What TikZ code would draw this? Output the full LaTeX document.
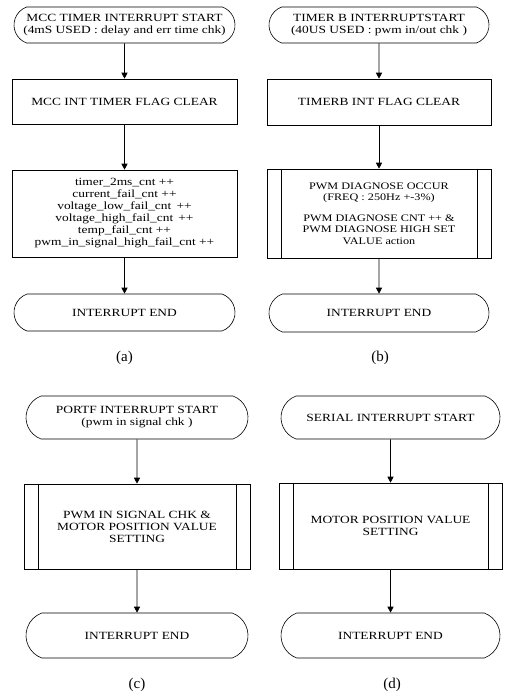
\documentclass[tikz,border=0pt]{standalone}
\usepackage{fontspec}
\setmainfont{Liberation Serif}[FakeStretch=1.22]
\newfontfamily\capfont{Liberation Serif}
\usetikzlibrary{arrows.meta, positioning, shapes.misc}

\begin{document}
\begin{tikzpicture}[x=1pt, y=-1pt, font=\fontsize{11}{12}\selectfont,
        termbox/.style={rounded rectangle, rounded rectangle arc length=140,
                        draw, line width=0.6pt, align=center, inner sep=2pt},
        procbox/.style={rectangle, draw, line width=0.6pt, align=center, inner sep=2pt},
        flow/.style={-{Triangle[length=6pt, width=6pt]}, line width=0.7pt},
        caption/.style={font=\capfont\fontsize{15}{17}\selectfont}
    ]
        \useasboundingbox (0,0) rectangle (504,696);
        % (a) MCC timer
        \node[termbox, minimum width=225pt, minimum height=36pt] (aStart) at (124.5,25)
            {MCC TIMER INTERRUPT START\\(4mS USED : delay and err time chk)};
        \node[procbox, minimum width=225pt, minimum height=45pt] (aClear) at (124.5,101.5)
            {MCC INT TIMER FLAG CLEAR};
        \node[procbox, minimum width=225pt, minimum height=87pt] (aCount) at (124.5,213.5)
            {timer\_2ms\_cnt ++\\current\_fail\_cnt ++\\voltage\_low\_fail\_cnt \,++\\
             voltage\_high\_fail\_cnt \,++\\temp\_fail\_cnt ++\\pwm\_in\_signal\_high\_fail\_cnt ++};
        \node[termbox, minimum width=225pt, minimum height=37pt] (aEnd) at (124.5,312.5)
            {INTERRUPT END};
        % (b) timer B
        \node[termbox, minimum width=224pt, minimum height=36pt] (bStart) at (379,25)
            {TIMER B INTERRUPTSTART\\(40US USED : pwm in/out chk )};
        \node[procbox, minimum width=224pt, minimum height=46pt] (bClear) at (379,102)
            {TIMERB INT FLAG CLEAR};
        \node[procbox, minimum width=224pt, minimum height=89pt,
              font=\fontsize{10}{11.5}\selectfont] (bDiag) at (379,213.5)
            {PWM DIAGNOSE OCCUR\\(FREQ : 250Hz +-3\%)\\[9pt]PWM DIAGNOSE CNT ++ \&\\
             PWM DIAGNOSE HIGH SET\\VALUE action};
        \node[termbox, minimum width=224pt, minimum height=38pt] (bEnd) at (379,313)
            {INTERRUPT END};
        % (c) port F
        \node[termbox, minimum width=226pt, minimum height=43pt] (cStart) at (137,417.5)
            {PORTF INTERRUPT START\\(pwm in signal chk )};
        \node[procbox, minimum width=226pt, minimum height=85pt] (cSig) at (137,526.5)
            {PWM IN SIGNAL CHK \&\\MOTOR POSITION VALUE\\SETTING};
        \node[termbox, minimum width=226pt, minimum height=45pt] (cEnd) at (137,635.5)
            {INTERRUPT END};
        % (d) serial
        \node[termbox, minimum width=223pt, minimum height=43pt] (dStart) at (390.5,417.5)
            {SERIAL INTERRUPT START};
        \node[procbox, minimum width=223pt, minimum height=86pt] (dPos) at (390.5,526)
            {MOTOR POSITION VALUE\\SETTING};
        \node[termbox, minimum width=223pt, minimum height=45pt] (dEnd) at (390.5,635.5)
            {INTERRUPT END};
        % side bars of the predefined process boxes
        \foreach \n in {bDiag, cSig, dPos}
        {
            \draw[line width=0.6pt] ([xshift=15pt]\n.north west) -- ([xshift=15pt]\n.south west);
            \draw[line width=0.6pt] ([xshift=-14pt]\n.north east) -- ([xshift=-14pt]\n.south east);
        }
        \foreach \a/\b in {aStart/aClear, aClear/aCount, aCount/aEnd,
                           bStart/bClear, bClear/bDiag, bDiag/bEnd,
                           cStart/cSig, cSig/cEnd, dStart/dPos, dPos/dEnd}
            \draw[flow] (\a) -- (\b);
        % captions
        \node[caption] (aCap) at (124.5,358) {(a)};
        \node[caption] (bCap) at (380,358) {(b)};
        \node[caption] (cCap) at (137,685) {(c)};
        \node[caption] (dCap) at (392,685) {(d)};
    \end{tikzpicture}
\end{document}
